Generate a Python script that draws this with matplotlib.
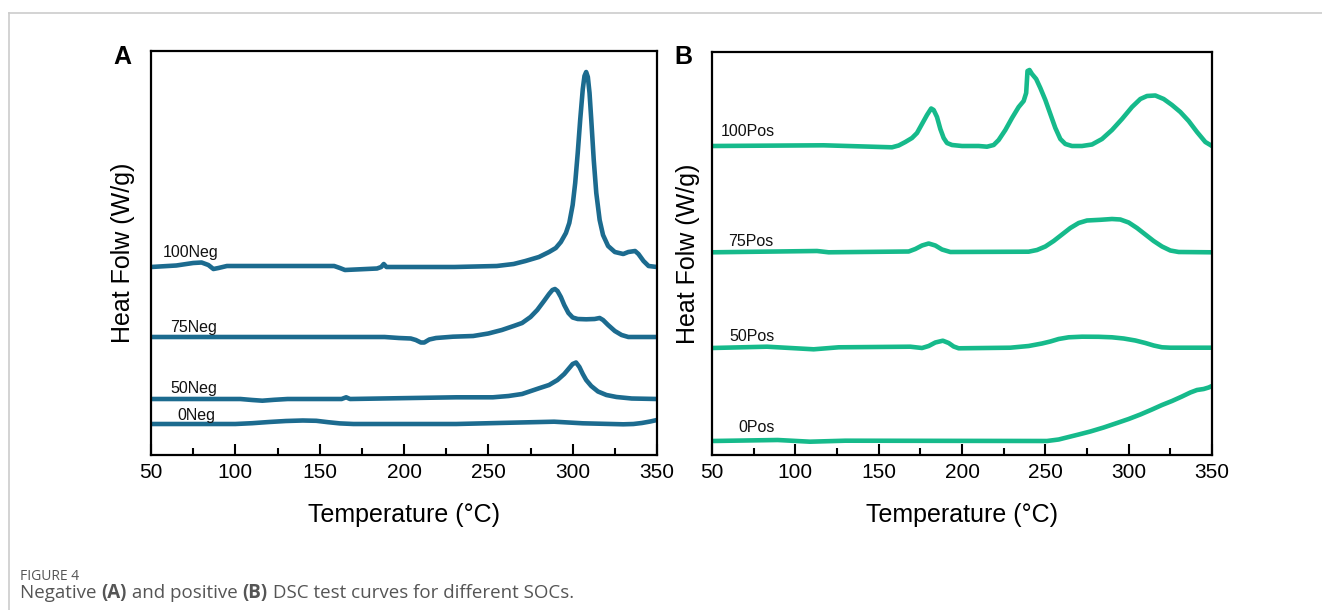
import matplotlib
matplotlib.use("Agg")
import matplotlib.pyplot as plt
from matplotlib.lines import Line2D
from matplotlib.ticker import MultipleLocator

plt.rcParams["font.family"] = ["Liberation Sans", "DejaVu Sans"]

# ---- Panel A: negative electrode DSC curves (offset, arbitrary units) ----
neg100_t = [50, 65, 75, 80, 84, 87, 90, 95, 158.6, 162, 165, 184, 186.5, 188, 189.6, 230,
            255, 265, 272, 280, 286, 290, 293, 296, 298, 300, 301.5, 303, 304.5, 306, 307,
            308, 309, 310, 311, 312.5, 314, 316, 318, 321, 325, 330, 333, 337, 339, 342,
            345, 350]
neg100_y = [188, 189.5, 192, 192.5, 190, 186, 187, 189, 189, 187, 185, 186.5, 188, 191, 188, 188,
            189, 191, 194, 198, 203, 207, 213, 222, 232, 250, 272, 302, 336, 366, 379,
            383, 378, 362, 336, 295, 262, 235, 220, 209, 203, 201, 203, 204, 201, 194,
            189, 188]

neg75_t = [50, 188.5, 197, 204, 207, 210, 212, 215, 219, 229, 241, 250, 258, 265, 270, 275,
           279, 283, 286, 288, 289.5, 291, 293, 295, 297.5, 300, 303, 308, 313, 316, 318,
           321, 325, 329, 333, 350]
neg75_y = [118, 118, 117, 116.5, 115, 112.5, 112.5, 115.5, 117, 118.3, 119, 121.5, 125, 129,
           132, 138, 145, 154, 161, 165, 166, 164, 158, 150, 142, 137.5, 136, 135.7, 136,
           137, 135, 130, 124, 120, 118, 118]

neg50_t = [50, 103, 110, 116, 123, 131, 163, 165.7, 168, 231, 252.7, 262, 270, 280, 286,
           291, 295, 298, 300, 302, 304, 306, 308, 311, 315, 320, 326, 335, 350]
neg50_y = [56, 56, 55, 54.3, 55.2, 56, 56, 57.7, 56, 57.7, 57.7, 59, 61, 66.7, 70,
           75, 81, 87, 91, 92.5, 88, 81, 75, 69, 63.5, 60, 58, 56.5, 56]

neg0_t = [50, 100, 110, 120, 130, 140, 148, 155, 162, 170, 231, 263.4, 289, 306, 330, 336,
          341, 346, 350]
neg0_y = [31, 31, 31.8, 33, 34, 34.5, 34.2, 32.8, 31.6, 31, 31, 32.3, 33.3, 31.7, 30.7, 31,
          32, 33.5, 35]

# ---- Panel B: positive electrode DSC curves ----
pos100_t = [50, 117, 158, 162, 166, 170, 173, 176, 179, 181.5, 183, 185, 187, 189, 191,
            194, 200, 210, 215, 219, 222, 226, 230, 234, 237, 238.5, 239.3, 240.5, 242,
            244.5, 247, 250, 253, 256, 259, 262, 266, 272, 278, 284, 290, 296, 302, 307,
            311, 316, 321, 326, 331, 336, 341, 346, 350]
pos100_y = [309, 309.7, 307.7, 309.5, 313, 317, 322, 331, 340, 346.5, 345, 338, 326, 317, 312,
            310, 309, 309, 308.3, 310, 315, 325, 337, 348, 354, 362, 384, 385, 381,
            376, 367, 355, 341, 327, 316, 311, 309, 309, 310.5, 316, 325, 336, 348, 356,
            359, 359.5, 356, 350, 343, 334, 323, 313, 309]

pos75_t = [50, 113, 120, 168, 172, 176, 180, 184, 188, 193, 240, 245, 250, 255, 260, 265,
           270, 275, 283, 290, 295, 300, 305, 310, 315, 320, 325, 330, 350]
pos75_y = [202.7, 204, 202.7, 203.5, 206, 209.5, 211.5, 209.5, 205.5, 203, 203.3, 205, 208.5,
           214, 220.5, 227, 232, 234.5, 235.2, 236, 235.5, 232.5, 227, 220.5, 214, 208.5,
           204.5, 203, 202.7]

pos50_t = [50, 83, 111, 126, 169, 176, 180, 184, 188.5, 192, 195, 198, 229, 240, 248, 253,
           258, 264, 272, 282, 290, 297, 304, 310, 315, 320, 325, 350]
pos50_y = [107, 108.3, 105.7, 107.7, 108.3, 107, 109, 112.5, 114.3, 112, 108.5, 106.7, 107.3,
           109, 111.5, 113.5, 116, 117.7, 118.3, 118.2, 117.7, 116.5, 114.5, 112, 109.5,
           107.7, 107.3, 107.3]

pos0_t = [50, 89.4, 108.8, 130, 251, 258, 264, 270, 277, 285, 293, 300, 307, 314, 320, 326,
          332, 337, 341, 345, 348, 350]
pos0_y = [14, 15, 13.3, 14.3, 14, 15.5, 18, 20.5, 23.5, 27.5, 32, 36, 40.5, 45.5, 50, 54,
          58.5, 62.5, 65, 66, 67.5, 69]

neg_labels = ["100Neg", "75Neg", "50Neg", "0Neg"]
neg_label_t = [57, 61.3, 61.3, 65.6]
neg_label_y = [198, 123.3, 61.7, 35]

pos_labels = ["100Pos", "75Pos", "50Pos", "0Pos"]
pos_label_t = [55.4, 59.7, 60.3, 65.7]
pos_label_y = [319, 209, 114.3, 23.3]

NEG_COLOR = "#1c6b8f"
POS_COLOR = "#16ba8b"


def style_axes(ax, ytop):
    ax.set_xlim(50, 350)
    ax.set_ylim(0, ytop)
    ax.set_yticks([])
    ax.xaxis.set_major_locator(MultipleLocator(50))
    ax.xaxis.set_minor_locator(MultipleLocator(25))
    ax.tick_params(axis="x", which="major", direction="in", length=8, width=1.5,
                   labelsize=15, pad=6, top=False)
    ax.tick_params(axis="x", which="minor", direction="in", length=5, width=1.5, top=False)
    for sp in ax.spines.values():
        sp.set_linewidth(1.6)
    ax.set_xlabel("Temperature (°C)", fontsize=18)
    ax.xaxis.set_label_coords(0.5, -0.119)
    ax.set_ylabel("Heat Folw (W/g)", fontsize=18)


fig = plt.figure(figsize=(13.22, 6.10), dpi=100)
W, H = 1322, 610

ax1 = fig.add_axes([151 / W, 1 - 455 / H, (657 - 151) / W, (455 - 51) / H])
ax2 = fig.add_axes([712 / W, 1 - 455 / H, (1212 - 712) / W, (455 - 52) / H])

for t, y in [(neg100_t, neg100_y), (neg75_t, neg75_y), (neg50_t, neg50_y), (neg0_t, neg0_y)]:
    ax1.plot(t, y, color=NEG_COLOR, lw=3.3, solid_capstyle="round", solid_joinstyle="round")
for lab, t, y in zip(neg_labels, neg_label_t, neg_label_y):
    ax1.text(t, y, lab, fontsize=11.5, va="baseline", ha="left", color="#111111")

for t, y in [(pos100_t, pos100_y), (pos75_t, pos75_y), (pos50_t, pos50_y), (pos0_t, pos0_y)]:
    ax2.plot(t, y, color=POS_COLOR, lw=3.3, solid_capstyle="round", solid_joinstyle="round")
for lab, t, y in zip(pos_labels, pos_label_t, pos_label_y):
    ax2.text(t, y, lab, fontsize=11.5, va="baseline", ha="left", color="#111111")

style_axes(ax1, 404)
style_axes(ax2, 403)
ax1.yaxis.set_label_coords(-0.032, 0.5)
ax2.yaxis.set_label_coords(-0.024, 0.5)

fig.text(122 / W, 1 - 57 / H, "A", fontsize=18, fontweight="bold", ha="center", va="center")
fig.text(683 / W, 1 - 57 / H, "B", fontsize=18, fontweight="bold", ha="center", va="center")

# card border (top and left edges)
fig.add_artist(Line2D([9 / W, 1.0], [1 - 13 / H, 1 - 13 / H], color="#cccccc", lw=1.2))
fig.add_artist(Line2D([9 / W, 9 / W], [0, 1 - 13 / H], color="#cccccc", lw=1.2))

# caption
cap_font = ["Open Sans", "DejaVu Sans"]
cap_color = "#555555"
fig.text(20 / W, 1 - 580 / H, "FIGURE 4", fontsize=10, color=cap_color,
         family=cap_font, va="baseline")
pieces = [("Negative ", "normal"), ("(A)", "bold"), (" and positive ", "normal"),
          ("(B)", "bold"), (" DSC test curves for different SOCs.", "normal")]
fig.canvas.draw()
renderer = fig.canvas.get_renderer()
x = 20
for txt, wt in pieces:
    t = fig.text(x / W, 1 - 598 / H, txt, fontsize=13.5, color=cap_color, family=cap_font,
                 fontweight=wt, va="baseline")
    x += t.get_window_extent(renderer).width

fig.savefig("out.png", dpi=100)
